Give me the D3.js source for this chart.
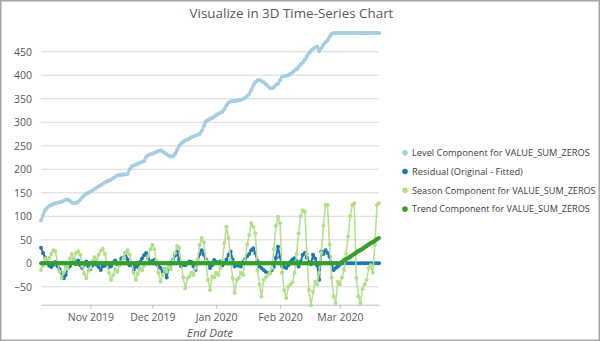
<!DOCTYPE html>
<html>
<head>
<meta charset="utf-8">
<script src="https://cdn.jsdelivr.net/npm/d3@7"></script>
<style>
  body { margin: 0; background: #fff; }
  svg { display: block; }
  text { font-family: "Open Sans", "Noto Sans", sans-serif; }
</style>
</head>
<body>
<svg id="chart" width="600" height="341"></svg>
<script>
// Daily observations, 8 Oct 2019 through 20 Mar 2020
const firstDay = new Date(2019, 9, 8);
const lastDay = new Date(2020, 2, 20);
const dates = d3.timeDay.range(firstDay, d3.timeDay.offset(lastDay, 1));

const seriesNames = [
  "Level Component for VALUE_SUM_ZEROS",
  "Residual (Original - Fitted)",
  "Season Component for VALUE_SUM_ZEROS",
  "Trend Component for VALUE_SUM_ZEROS"
];

const levelValues = [
  91,103,113,118,122,124,126,128,129,130,
  131,133,135,136,133,129,128,129,131,135,
  140,145,148,150,152,155,158,161,164,166,
  169,172,174,176,178,181,184,187,188,188,
  189,189,190,200,206,208,210,212,214,216,
  217,226,230,232,233,235,237,239,240,238,
  235,232,229,227,227,232,241,250,255,258,
  261,263,265,268,270,272,273,275,282,292,
  302,305,307,309,312,315,318,320,322,328,
  336,342,344,345,345,346,347,348,349,352,
  356,360,368,378,385,389,390,388,385,381,
  377,373,372,375,380,382,390,397,398,399,
  400,403,406,410,413,418,423,427,433,440,
  447,452,456,459,461,451,458,465,470,474,
  482,488,490,490,490,490,490,490,490,490,
  490,490,490,490,490,490,490,490,490,490,
  490,490,490,490,490
];

const residualValues = [
  33,22,12,4,-5,-8,-3,3,-6,-12,
  -20,-32,-25,-10,-6,2,8,-2,6,-4,
  -10,-3,4,-6,-12,-4,3,-3,-8,-14,
  -6,-5,-2,-8,-6,2,6,-2,0,11,
  11,22,8,-4,-4,-14,-6,-8,3,10,
  17,22,12,3,5,7,-2,-6,-10,-18,
  -12,-30,-8,2,7,16,25,8,-6,-3,
  -4,0,4,3,-6,-14,4,20,28,18,
  8,2,-10,-4,7,3,2,4,-4,0,
  8,18,25,8,-7,-4,-5,-7,3,8,
  15,20,28,32,22,5,-7,-10,-14,-18,
  -21,-21,-14,-8,12,35,14,-7,-8,-10,
  -4,3,8,11,5,-7,4,18,22,12,
  3,-2,18,10,-4,-35,25,20,28,22,
  14,-2,-14,-10,-7,-3,0,0,0,0,
  0,0,0,0,0,0,0,0,0,0,
  0,0,0,0,0
];

const seasonValues = [
  -14,-5,10,4,12,20,28,25,2,-18,
  -31,-20,-8,-12,10,20,8,22,25,18,
  -5,-22,-32,-15,-10,5,13,5,18,27,
  31,20,0,-20,-35,-25,-12,-18,-5,3,
  10,22,28,18,0,-20,-35,-22,-10,-15,
  -5,0,15,30,39,30,5,-20,-39,-25,
  -12,-18,-8,-12,5,22,37,33,0,-30,
  -53,-32,-28,-20,-25,-10,8,39,54,45,
  5,-35,-57,-28,-30,-20,-25,-10,5,43,
  78,54,5,-31,-63,-35,-31,-20,-25,5,
  40,60,85,78,64,-14,-45,-71,-35,-30,
  -25,-21,-10,30,80,99,85,-20,-57,-74,
  -50,-45,-40,-20,20,64,100,113,110,20,
  -57,-89,-61,-39,-45,-20,22,80,124,124,
  40,-30,-70,-85,-39,-45,-30,-14,20,57,
  100,124,128,-31,-70,-85,-55,-45,-35,-10,
  -4,-20,40,124,128
];

const trendValues = [
  0,0,0,0,0,0,0,0,0,0,
  0,0,0,0,0,0,0,0,0,0,
  0,0,0,0,0,0,0,0,0,0,
  0,0,0,0,0,0,0,0,0,0,
  0,0,0,0,0,0,0,0,0,0,
  0,0,0,0,0,0,0,0,0,0,
  0,0,0,0,0,0,0,0,0,0,
  0,0,0,0,0,0,0,0,0,0,
  0,0,0,0,0,0,0,0,0,0,
  0,0,0,0,0,0,0,0,0,0,
  0,0,0,0,0,0,0,0,0,0,
  0,0,0,0,0,0,0,0,0,0,
  0,0,0,0,0,0,0,0,0,0,
  0,0,0,0,0,0,0,0,0,0,
  0,0,0,0,0,0,3,6,9,11,
  14,17,20,23,26,28,31,34,37,40,
  43,45,48,51,54
];

const yTickValues = [-50, 0, 50, 100, 150, 200, 250, 300, 350, 400, 450];
const xTickLabels = ["Nov 2019", "Dec 2019", "Jan 2020", "Feb 2020", "Mar 2020"];
const xTickDates = [new Date(2019,10,1), new Date(2019,11,1), new Date(2020,0,1), new Date(2020,1,1), new Date(2020,2,1)];

const colors = ["#a6cee3", "#1f78b4", "#b2df8a", "#33a02c"];
const lineWidths = [3, 2, 1.5, 4];
const dotRadius = [2, 2, 2, 2];
// target widths of the legend labels
const legendTextWidths = [178, 111, 184, 178];

const svg = d3.select("#chart");
const W = 600, H = 341;
const plot = { left: 41, right: 379, top: 27.3, bottom: 304.7 };

const x = d3.scaleTime().domain([firstDay, lastDay]).range([plot.left, plot.right]);
const y = d3.scaleLinear().domain([-88, 502]).range([plot.bottom, plot.top]);

// scale a text's font size so that its natural width equals the target
function fitWidth(sel, target, base) {
  sel.attr("font-size", base);
  const w = sel.node().getComputedTextLength();
  if (w > 0) sel.attr("font-size", base * target / w);
}

// outer frame
svg.append("rect")
  .attr("x", 0.75).attr("y", 0.75)
  .attr("width", W - 1.5).attr("height", H - 1.5)
  .attr("fill", "#fff").attr("stroke", "#a6a6a6").attr("stroke-width", 1.5);

// title
const title = svg.append("text")
  .attr("x", 291.5).attr("y", 18)
  .attr("text-anchor", "middle")
  .attr("fill", "#595959")
  .attr("font-family", "Lato, \"Open Sans\", sans-serif")
  .text("Visualize in 3D Time-Series Chart");
fitWidth(title, 204, 15);

// horizontal gridlines
svg.append("g").selectAll("line")
  .data(yTickValues).join("line")
  .attr("x1", plot.left).attr("x2", plot.right)
  .attr("y1", d => y(d)).attr("y2", d => y(d))
  .attr("stroke", "#d9d9d9").attr("stroke-width", 1);

// y axis labels
const yAxis = svg.append("g")
  .attr("transform", `translate(${plot.left},0)`)
  .call(d3.axisLeft(y).tickValues(yTickValues).tickSize(0).tickPadding(9));
yAxis.select(".domain").remove();
yAxis.selectAll("text").attr("font-size", 10.5).attr("fill", "#595959")
  .attr("font-family", "\"Open Sans\", sans-serif");

// x axis
const xAxis = svg.append("g")
  .attr("transform", `translate(0,${plot.bottom})`)
  .call(d3.axisBottom(x).tickValues(xTickDates).tickSizeInner(4).tickSizeOuter(0)
    .tickPadding(5).tickFormat((d, i) => xTickLabels[i]));
xAxis.select(".domain").attr("stroke", "#bfbfbf");
xAxis.selectAll(".tick line").attr("stroke", "#bfbfbf");
xAxis.selectAll("text").attr("font-size", 10.5).attr("fill", "#595959")
  .attr("font-family", "\"Open Sans\", sans-serif");

// axis title
svg.append("text")
  .attr("x", (plot.left + plot.right) / 2).attr("y", 337)
  .attr("text-anchor", "middle")
  .attr("font-size", 11.5).attr("font-style", "italic").attr("fill", "#595959")
  .text("End Date");

// series
const allValues = [levelValues, residualValues, seasonValues, trendValues];
const series = seriesNames.map((name, i) => ({
  name, color: colors[i], width: lineWidths[i], r: dotRadius[i], textWidth: legendTextWidths[i],
  points: dates.map((d, j) => ({ date: d, value: allValues[i][j] }))
}));

const line = d3.line().x(d => x(d.date)).y(d => y(d.value));

const seriesG = svg.append("g").selectAll("g").data(series).join("g");
seriesG.append("path")
  .attr("d", s => line(s.points))
  .attr("fill", "none")
  .attr("stroke", s => s.color)
  .attr("stroke-width", s => s.width)
  .attr("stroke-linejoin", "round");
seriesG.each(function (s) {
  d3.select(this).append("g").selectAll("circle")
    .data(s.points).join("circle")
    .attr("cx", d => x(d.date)).attr("cy", d => y(d.value))
    .attr("r", s.r).attr("fill", s.color);
});

// legend
const legend = svg.append("g").attr("transform", "translate(405,152.7)");
const item = legend.selectAll("g").data(series).join("g")
  .attr("transform", (d, i) => `translate(0,${i * 18.8})`);
item.append("circle").attr("r", 2.8).attr("fill", d => d.color);
item.append("text")
  .attr("x", 7).attr("dy", "0.35em")
  .attr("fill", "#404040")
  .attr("font-family", "Lato, \"Open Sans\", sans-serif")
  .text(d => d.name)
  .each(function (d) { fitWidth(d3.select(this), d.textWidth, 11); });
</script>
</body>
</html>
